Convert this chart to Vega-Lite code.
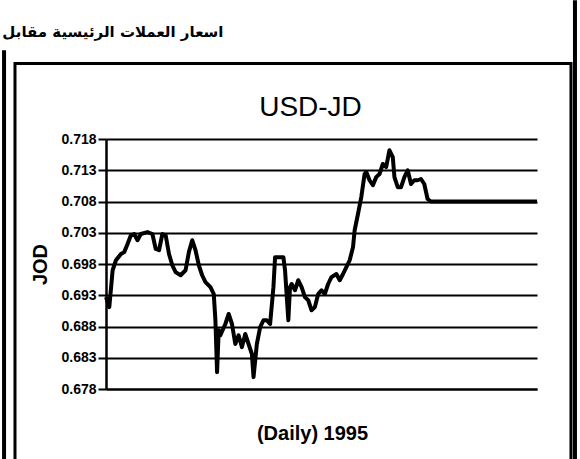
{
  "$schema": "https://vega.github.io/schema/vega-lite/v6.json",
  "width": 431,
  "height": 250,
  "autosize": {"type": "none"},
  "padding": {"left": 106, "top": 139, "right": 43, "bottom": 70},
  "background": "white",
  "config": {"view": {"stroke": null}, "font": "Liberation Sans"},
  "resolve": {"axis": {"x": "independent", "y": "independent"}},
  "layer": [
    {
      "data": {"values": [{}]},
      "mark": {"type": "rect", "fill": null, "stroke": "black", "strokeWidth": 3, "clip": false},
      "encoding": {
        "x": {"datum": -54.9, "type": "quantitative", "scale": {"domain": [0, 260], "nice": false, "zero": false},
              "axis": {"orient": "top", "labels": false, "ticks": false, "domain": false, "grid": false,
                       "title": "USD-JD", "titleFont": "Liberation Sans", "titleFontSize": 28, "titleFontWeight": "normal", "titleColor": "black",
                       "titleAlign": "center", "titleBaseline": "alphabetic", "titleX": 204, "titleY": -24, "titleAngle": 0}},
        "x2": {"datum": 280.5},
        "y": {"datum": 0.7301, "type": "quantitative", "scale": {"domain": [0.678, 0.718], "nice": false, "zero": false}, "axis": null},
        "y2": {"datum": 0.6658}
      }
    },
    {
      "data": {"values": [{}]},
      "mark": {"type": "rule", "stroke": "black", "strokeWidth": 4, "clip": false},
      "encoding": {
        "x": {"datum": -61.5, "type": "quantitative", "axis": null},
        "y": {"datum": 0.7322, "type": "quantitative",
              "axis": {"orient": "right", "labels": false, "ticks": false, "domain": false, "grid": false,
                       "title": "اسعار العملات الرئيسية مقابل", "titleFont": "DejaVu Sans", "titleFontSize": 15, "titleFontWeight": "bold", "titleColor": "black",
                       "titleAlign": "right", "titleBaseline": "alphabetic", "titleAngle": 0, "titleX": -314, "titleY": -103}},
        "y2": {"datum": 0.6658}
      }
    },
    {
      "data": {"values": [{}]},
      "mark": {"type": "rule", "stroke": "black", "strokeWidth": 4, "clip": false},
      "encoding": {
        "x": {"datum": 282.9, "type": "quantitative", "axis": null},
        "y": {"datum": 0.7402, "type": "quantitative", "axis": null},
        "y2": {"datum": 0.6658}
      }
    },
    {
      "data": {"values": [
        {"day": 0, "rate": 0.6927}, {"day": 2, "rate": 0.6911}, {"day": 4, "rate": 0.6970}, {"day": 6, "rate": 0.6986},
        {"day": 9, "rate": 0.6996}, {"day": 11, "rate": 0.6999}, {"day": 13, "rate": 0.7012}, {"day": 15, "rate": 0.7026},
        {"day": 17, "rate": 0.7028}, {"day": 19, "rate": 0.7018}, {"day": 21, "rate": 0.7028}, {"day": 25, "rate": 0.7031},
        {"day": 28, "rate": 0.7028}, {"day": 30, "rate": 0.7004}, {"day": 32, "rate": 0.7002}, {"day": 34, "rate": 0.7028},
        {"day": 36, "rate": 0.7026}, {"day": 38, "rate": 0.6996}, {"day": 40, "rate": 0.6978}, {"day": 42, "rate": 0.6967},
        {"day": 45, "rate": 0.6962}, {"day": 48, "rate": 0.6970}, {"day": 50, "rate": 0.6999}, {"day": 52, "rate": 0.7018},
        {"day": 54, "rate": 0.7002}, {"day": 56, "rate": 0.6978}, {"day": 58, "rate": 0.6962}, {"day": 60, "rate": 0.6951},
        {"day": 63, "rate": 0.6943}, {"day": 65, "rate": 0.6932}, {"day": 66, "rate": 0.6890}, {"day": 67, "rate": 0.6807},
        {"day": 68, "rate": 0.6874}, {"day": 69, "rate": 0.6866}, {"day": 72, "rate": 0.6884}, {"day": 74, "rate": 0.6900},
        {"day": 76, "rate": 0.6884}, {"day": 78, "rate": 0.6852}, {"day": 80, "rate": 0.6866}, {"day": 82, "rate": 0.6847},
        {"day": 84, "rate": 0.6868}, {"day": 86, "rate": 0.6852}, {"day": 88, "rate": 0.6836}, {"day": 89, "rate": 0.6799},
        {"day": 91, "rate": 0.6852}, {"day": 93, "rate": 0.6879}, {"day": 95, "rate": 0.6890}, {"day": 97, "rate": 0.6890},
        {"day": 99, "rate": 0.6884}, {"day": 101, "rate": 0.6943}, {"day": 102, "rate": 0.6991}, {"day": 104, "rate": 0.6991},
        {"day": 107, "rate": 0.6991}, {"day": 108, "rate": 0.6970}, {"day": 110, "rate": 0.6890}, {"day": 111, "rate": 0.6943},
        {"day": 112, "rate": 0.6948}, {"day": 114, "rate": 0.6938}, {"day": 116, "rate": 0.6954}, {"day": 118, "rate": 0.6943},
        {"day": 120, "rate": 0.6927}, {"day": 122, "rate": 0.6922}, {"day": 124, "rate": 0.6906}, {"day": 126, "rate": 0.6911},
        {"day": 128, "rate": 0.6932}, {"day": 130, "rate": 0.6938}, {"day": 132, "rate": 0.6932}, {"day": 134, "rate": 0.6948},
        {"day": 136, "rate": 0.6959}, {"day": 139, "rate": 0.6964}, {"day": 141, "rate": 0.6954}, {"day": 143, "rate": 0.6964},
        {"day": 145, "rate": 0.6975}, {"day": 147, "rate": 0.6986}, {"day": 149, "rate": 0.7007}, {"day": 150, "rate": 0.7034},
        {"day": 152, "rate": 0.7060}, {"day": 154, "rate": 0.7087}, {"day": 156, "rate": 0.7124}, {"day": 157, "rate": 0.7127},
        {"day": 159, "rate": 0.7114}, {"day": 161, "rate": 0.7106}, {"day": 163, "rate": 0.7119}, {"day": 165, "rate": 0.7124},
        {"day": 167, "rate": 0.7140}, {"day": 169, "rate": 0.7135}, {"day": 171, "rate": 0.7162}, {"day": 173, "rate": 0.7151},
        {"day": 174, "rate": 0.7119}, {"day": 176, "rate": 0.7103}, {"day": 178, "rate": 0.7103}, {"day": 180, "rate": 0.7119},
        {"day": 182, "rate": 0.7130}, {"day": 184, "rate": 0.7108}, {"day": 186, "rate": 0.7114}, {"day": 188, "rate": 0.7114},
        {"day": 190, "rate": 0.7116}, {"day": 192, "rate": 0.7108}, {"day": 194, "rate": 0.7084}, {"day": 196, "rate": 0.7080},
        {"day": 210, "rate": 0.7080}, {"day": 230, "rate": 0.7080}, {"day": 250, "rate": 0.7080}, {"day": 260, "rate": 0.7080}
      ]},
      "mark": {"type": "line", "stroke": "black", "strokeWidth": 4, "strokeJoin": "round"},
      "encoding": {
        "x": {"field": "day", "type": "quantitative", "scale": {"domain": [0, 260], "nice": false, "zero": false},
              "axis": {"orient": "bottom", "labels": false, "ticks": false, "grid": false, "domain": true, "domainColor": "black", "domainWidth": 2,
                       "title": "(Daily) 1995", "titleFontSize": 20, "titleFontWeight": "bold", "titleColor": "black", "titlePadding": 34, "titleX": 206}},
        "y": {"field": "rate", "type": "quantitative", "scale": {"domain": [0.678, 0.718], "nice": false, "zero": false},
              "axis": {"orient": "left", "values": [0.678, 0.683, 0.688, 0.693, 0.698, 0.703, 0.708, 0.713, 0.718], "format": ".3f",
                       "grid": true, "gridColor": "black", "gridWidth": 2, "gridOpacity": 1,
                       "domain": true, "domainColor": "black", "domainWidth": 2.5,
                       "ticks": true, "tickColor": "black", "tickWidth": 2, "tickSize": 8,
                       "labelFontSize": 14, "labelFontWeight": "bold", "labelColor": "black", "labelPadding": 2,
                       "title": "JOD", "titleFontSize": 20, "titleFontWeight": "bold", "titleColor": "black", "titlePadding": 10}}
      }
    }
  ]
}
